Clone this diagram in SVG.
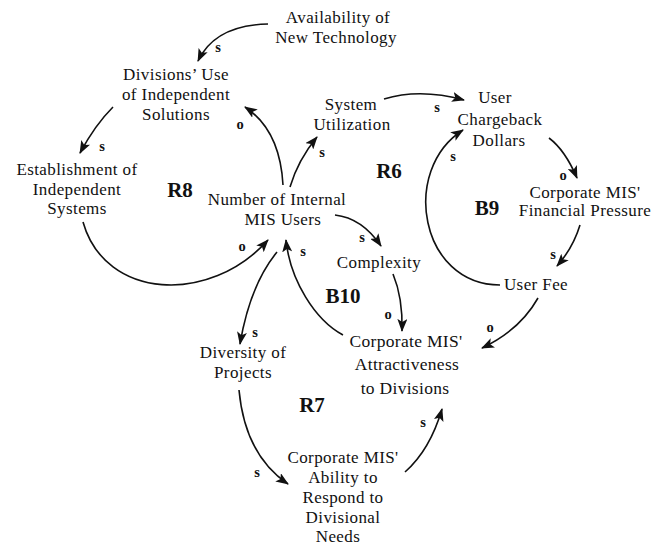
<svg xmlns="http://www.w3.org/2000/svg" width="655" height="547" viewBox="0 0 655 547">
<defs>
<marker id="ah" markerWidth="13" markerHeight="10" refX="12" refY="5" orient="auto" markerUnits="userSpaceOnUse">
<path d="M0,0 L13,5 L0,10 L3,5 z" fill="#111"/>
</marker>
<style>
.n{font-family:"Liberation Serif","Times New Roman",serif;font-size:17px;letter-spacing:0.4px;fill:#111;text-anchor:middle}
.a{font-family:"Liberation Serif","Times New Roman",serif;font-size:17.5px;letter-spacing:0.3px;fill:#111;text-anchor:middle}
.p{font-family:"Liberation Serif","Times New Roman",serif;font-size:14.5px;font-weight:bold;fill:#111;text-anchor:middle}
.l{font-family:"Liberation Serif","Times New Roman",serif;font-size:21px;font-weight:bold;fill:#111;text-anchor:middle}
.c{fill:none;stroke:#111;stroke-width:1.6;marker-end:url(#ah)}
</style>
</defs>
<rect width="655" height="547" fill="#fff"/>
<g id="connectors">
<path class="c" d="M268 24 Q215 25 198 61"/>
<path class="c" d="M113 107 Q95 125 80 153"/>
<path class="c" d="M283 185 Q280 130 245 107"/>
<path class="c" d="M290 187 Q298 160 317 137"/>
<path class="c" d="M384 99 Q420 88 464 100"/>
<path class="c" d="M549 138 Q565 150 577 178"/>
<path class="c" d="M580 225 Q573 248 557 266"/>
<path class="c" d="M500 285 C420 285 400 170 463 130"/>
<path class="c" d="M335 215 Q362 218 381 246"/>
<path class="c" d="M393 274 Q403 298 402 331"/>
<path class="c" d="M343 335 C315 320 290 280 286 240"/>
<path class="c" d="M538 298 Q520 330 482 348"/>
<path class="c" d="M277 252 Q250 285 240 344"/>
<path class="c" d="M239 390 Q245 455 288 484"/>
<path class="c" d="M405 472 Q430 450 442 409"/>
<path class="c" d="M83 222 C105 300 210 305 268 240"/>
</g>
<g id="polarities">
<text class="p" x="218" y="52">s</text>
<text class="p" x="102" y="151">s</text>
<text class="p" x="240" y="129">o</text>
<text class="p" x="322" y="157">s</text>
<text class="p" x="437" y="112">s</text>
<text class="p" x="453" y="161">s</text>
<text class="p" x="563" y="180">o</text>
<text class="p" x="553" y="259">s</text>
<text class="p" x="362" y="242">s</text>
<text class="p" x="303" y="256">s</text>
<text class="p" x="388" y="319">o</text>
<text class="p" x="490" y="332">o</text>
<text class="p" x="242" y="251">o</text>
<text class="p" x="255" y="337">s</text>
<text class="p" x="257" y="477">s</text>
<text class="p" x="423" y="427">s</text>
</g>
<g id="loops">
<text class="l" x="180" y="197">R8</text>
<text class="l" x="389" y="178">R6</text>
<text class="l" x="487" y="215">B9</text>
<text class="l" x="343" y="303">B10</text>
<text class="l" x="312" y="412">R7</text>
</g>
<g id="availability"><text class="n" x="338" y="23">Availability of</text><text class="n" x="336" y="43">New Technology</text></g>
<g id="divisions-use"><text class="n" x="176" y="80">Divisions’ Use</text><text class="n" x="176" y="100">of Independent</text><text class="n" x="176" y="120">Solutions</text></g>
<g id="establishment"><text class="n" x="77" y="175">Establishment of</text><text class="n" x="77" y="195">Independent</text><text class="n" x="77" y="214">Systems</text></g>
<g id="internal-users"><text class="n" x="277" y="205">Number of Internal</text><text class="n" x="283" y="225">MIS Users</text></g>
<g id="system-utilization"><text class="n" x="351" y="110">System</text><text class="n" x="352" y="130">Utilization</text></g>
<g id="chargeback"><text class="n" x="495" y="103">User</text><text class="n" x="500" y="125">Chargeback</text><text class="n" x="499" y="146">Dollars</text></g>
<g id="financial-pressure"><text class="n" x="585" y="198">Corporate MIS'</text><text class="n" x="585" y="216">Financial Pressure</text></g>
<g id="user-fee"><text class="n" x="536" y="290">User Fee</text></g>
<g id="complexity"><text class="n" x="379" y="268">Complexity</text></g>
<g id="attractiveness"><text class="a" x="406" y="347">Corporate MIS'</text><text class="a" x="407" y="370">Attractiveness</text><text class="a" x="405" y="394">to Divisions</text></g>
<g id="diversity"><text class="n" x="243" y="358">Diversity of</text><text class="n" x="243" y="378">Projects</text></g>
<g id="ability"><text class="n" x="343" y="463">Corporate MIS'</text><text class="n" x="343" y="483">Ability to</text><text class="n" x="343" y="503">Respond to</text><text class="n" x="343" y="523">Divisional</text><text class="n" x="338" y="542">Needs</text></g>
</svg>
